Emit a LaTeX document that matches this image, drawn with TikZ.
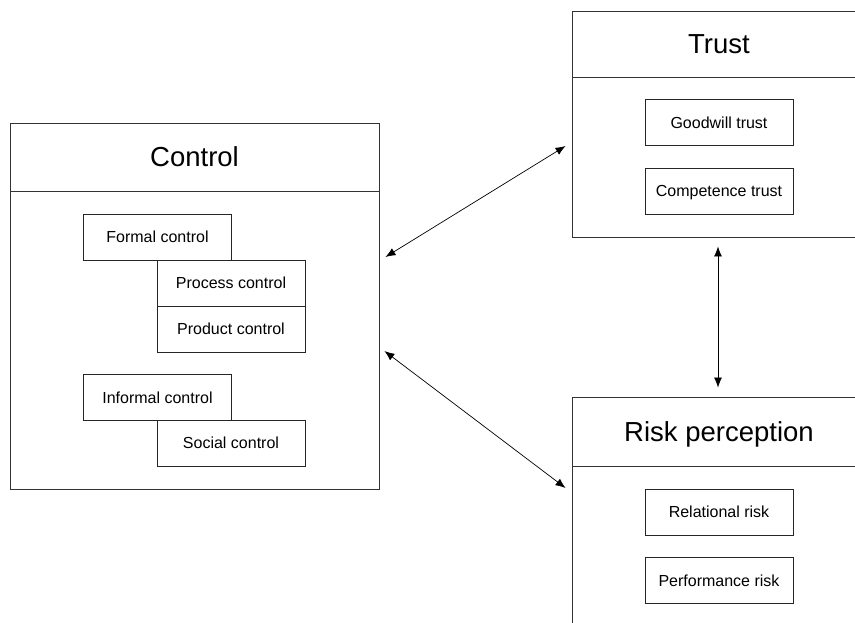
\documentclass[tikz,border=0pt]{standalone}
\usepackage{fontspec}
\setmainfont{Liberation Sans}
\usetikzlibrary{arrows.meta}
\begin{document}
\begin{tikzpicture}[x=1pt,y=-1pt,
    frame/.style={draw=black!80, line width=0.9pt, inner sep=0pt},
    title/.style={font=\fontsize{27.5}{30}\selectfont, text height=19.5pt, text depth=0pt, inner sep=0pt},
    item/.style={draw=black!85, line width=0.9pt, minimum width=148pt, minimum height=46pt,
      inner sep=0pt, text height=11.5pt, text depth=0pt, font=\fontsize{16}{18}\selectfont},
    link/.style={{Latex[length=10pt,width=8pt]}-{Latex[length=10pt,width=8pt]}, line width=0.7pt}]
  \clip (0,0) rectangle (855,622);
  \fill[white] (0,0) rectangle (855,622);
  % outer boxes
  \node[frame, minimum width=369pt, minimum height=366pt] (control) at (194.5,306) {};
  \node[frame, minimum width=294pt, minimum height=226pt] (trust) at (719,124) {};
  \node[frame, minimum width=294pt, minimum height=263pt] (risk) at (719,528.5) {};
  \node[title] (controltitle) at (194.5,157) {Control};
  \node[title] (trusttitle) at (719,44) {Trust};
  \node[title] (risktitle) at (719,432) {Risk perception};
  \draw[black!80, line width=0.9pt] (10,191) -- (379,191);
  \draw[black!80, line width=0.9pt] (572,77) -- (866,77);
  \draw[black!80, line width=0.9pt] (572,466) -- (866,466);
  % control items
  \node[item, fill=white] (formal) at (157.5,237) {Formal control};
  \node[item, fill=white] (process) at (231,283) {Process control};
  \node[item, fill=white] (product) at (231,329) {Product control};
  \node[item, fill=white] (informal) at (157.5,397.5) {Informal control};
  \node[item, fill=white] (social) at (231,443) {Social control};
  % trust items
  \node[item] (goodwill) at (719,122.5) {Goodwill trust};
  \node[item] (competence) at (719,191) {Competence trust};
  % risk items
  \node[item] (relational) at (719,512) {Relational risk};
  \node[item] (performance) at (719,580.5) {Performance risk};
  \begin{scope}[link]
    \draw ([shift={(6,-49)}]control.east) to ([shift={(-6,22)}]trust.west);
    \draw ([shift={(5,45)}]control.east) to ([shift={(-6,-40.5)}]risk.west);
    \draw ([shift={(-1,9)}]trust.south) to ([shift={(-1,-9)}]risk.north);
  \end{scope}
\end{tikzpicture}
\end{document}
